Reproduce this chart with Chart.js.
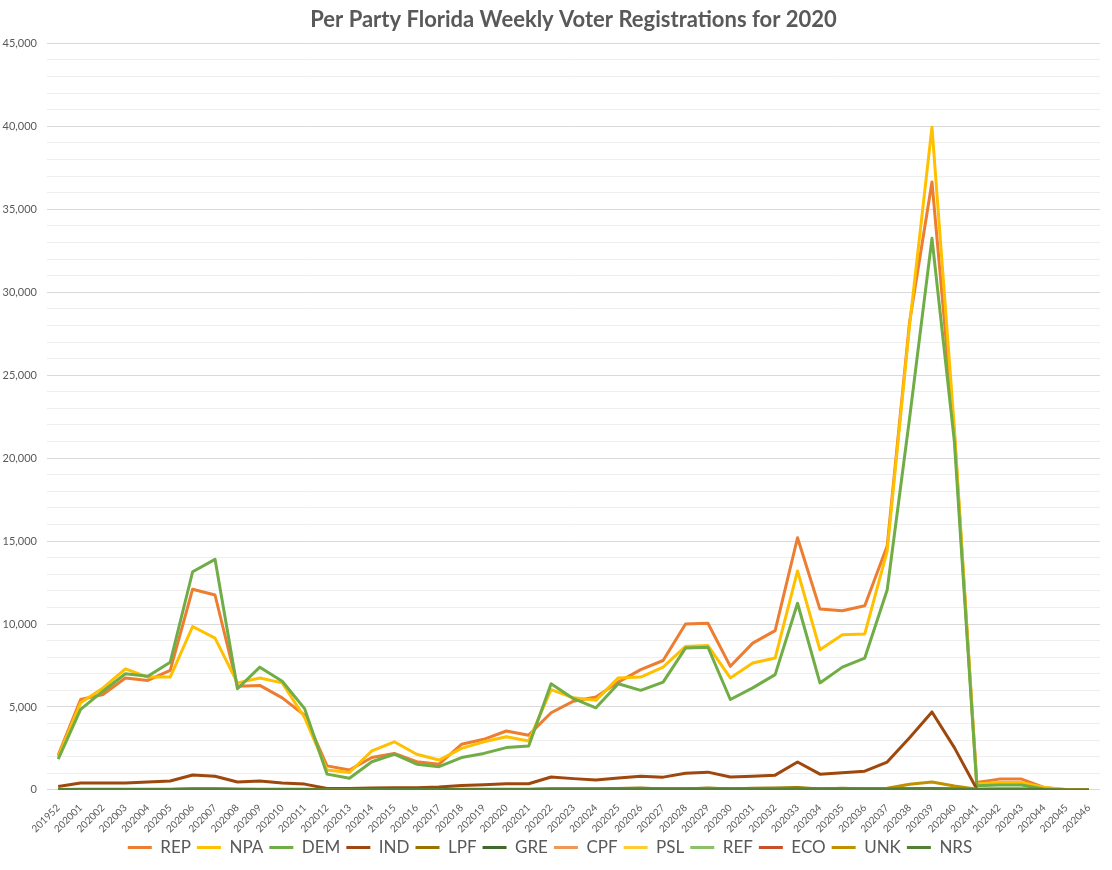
<!DOCTYPE html>
<html>
<head>
<meta charset="utf-8">
<title>Per Party Florida Weekly Voter Registrations for 2020</title>
<script src="https://cdn.jsdelivr.net/npm/chart.js@4.4.1/dist/chart.umd.min.js"></script>
<style>
  html, body { margin: 0; padding: 0; background: #fff; }
  #wrap { width: 1112px; height: 870px; }
</style>
</head>
<body>
<div id="wrap"><canvas id="registrations"></canvas></div>
<script>
// Week codes (year + week number)
const weeks = ['201952', '202001', '202002', '202003', '202004', '202005', '202006', '202007', '202008', '202009',
  '202010', '202011', '202012', '202013', '202014', '202015', '202016', '202017', '202018', '202019',
  '202020', '202021', '202022', '202023', '202024', '202025', '202026', '202027', '202028', '202029',
  '202030', '202031', '202032', '202033', '202034', '202035', '202036', '202037', '202038', '202039',
  '202040', '202041', '202042', '202043', '202044', '202045', '202046'];

// Weekly registrations per party
const rep = [2100, 5450, 5750, 6750, 6600, 7200, 12100, 11750, 6250, 6300,
  5550, 4500, 1450, 1200, 1950, 2200, 1700, 1550, 2750, 3050,
  3550, 3300, 4650, 5350, 5600, 6500, 7250, 7800, 10000, 10050,
  7450, 8850, 9600, 15200, 10900, 10800, 11100, 14700, 28200, 36650,
  21500, 450, 650, 650, 150, 10, 0];
const npa = [2000, 5250, 6150, 7300, 6800, 6800, 9850, 9150, 6450, 6750,
  6450, 4350, 1200, 1050, 2350, 2900, 2150, 1800, 2500, 2900,
  3200, 2950, 6050, 5550, 5400, 6750, 6800, 7400, 8650, 8700,
  6750, 7650, 7950, 13200, 8450, 9350, 9400, 14400, 28000, 39950,
  21800, 350, 450, 450, 150, 20, 0];
const dem = [1850, 4850, 5950, 7000, 6850, 7700, 13150, 13900, 6100, 7400,
  6550, 4900, 950, 700, 1700, 2150, 1550, 1400, 1950, 2200,
  2550, 2650, 6400, 5500, 4950, 6400, 6000, 6500, 8550, 8600,
  5450, 6150, 6950, 11250, 6450, 7400, 7950, 12050, 22400, 33250,
  21000, 250, 300, 300, 50, 0, 0];
const ind = [200, 420, 420, 420, 480, 540, 900, 820, 480, 540,
  420, 350, 80, 80, 120, 130, 130, 170, 260, 310,
  370, 370, 780, 680, 600, 720, 830, 770, 1000, 1070,
  780, 830, 890, 1680, 950, 1030, 1130, 1680, 3150, 4700,
  2550, 50, 30, 30, 10, 0, 0];
const lpf = [20, 30, 30, 30, 30, 30, 50, 50, 40, 30,
  30, 30, 10, 10, 20, 20, 20, 20, 30, 30,
  30, 30, 50, 50, 50, 80, 120, 60, 60, 110,
  60, 100, 110, 140, 60, 100, 60, 80, 60, 50,
  40, 20, 50, 50, 20, 0, 0];
const gre = [5, 10, 10, 10, 10, 10, 15, 15, 10, 10,
  10, 10, 5, 5, 5, 5, 5, 5, 10, 10,
  10, 10, 15, 15, 15, 15, 15, 15, 20, 20,
  15, 15, 15, 25, 15, 15, 15, 20, 30, 40,
  20, 5, 10, 10, 5, 0, 0];
const cpf = [10, 20, 20, 20, 20, 20, 30, 30, 20, 20,
  20, 20, 5, 5, 10, 10, 10, 10, 15, 15,
  15, 15, 25, 20, 20, 25, 25, 25, 30, 30,
  25, 25, 25, 40, 25, 25, 30, 40, 60, 80,
  40, 5, 10, 10, 5, 0, 0];
const psl = [5, 10, 10, 10, 10, 10, 15, 15, 10, 10,
  10, 10, 5, 5, 5, 5, 5, 5, 10, 10,
  10, 10, 15, 15, 15, 15, 15, 15, 20, 20,
  15, 15, 15, 25, 15, 20, 20, 25, 40, 50,
  30, 5, 10, 10, 5, 0, 0];
const ref = [5, 10, 10, 10, 10, 10, 15, 15, 10, 10,
  10, 10, 5, 5, 5, 5, 5, 5, 10, 10,
  10, 10, 15, 15, 15, 15, 15, 15, 20, 20,
  15, 15, 15, 25, 15, 20, 20, 25, 40, 50,
  30, 5, 10, 10, 5, 0, 0];
const eco = [30, 40, 40, 40, 40, 40, 50, 50, 40, 40,
  40, 40, 20, 20, 30, 30, 30, 30, 40, 40,
  40, 40, 50, 50, 50, 50, 60, 50, 60, 60,
  50, 50, 60, 70, 50, 60, 50, 60, 60, 60,
  40, 10, 20, 20, 10, 0, 0];
const unk = [20, 30, 30, 30, 30, 30, 40, 40, 30, 30,
  30, 30, 10, 10, 20, 20, 20, 20, 30, 30,
  30, 30, 40, 40, 40, 60, 70, 50, 50, 80,
  50, 70, 70, 100, 50, 70, 50, 100, 340, 480,
  240, 40, 20, 20, 10, 0, 0];
const nrs = [20, 30, 30, 30, 30, 30, 40, 40, 30, 30,
  30, 30, 10, 10, 20, 20, 20, 20, 30, 30,
  30, 30, 40, 40, 40, 50, 50, 50, 50, 60,
  50, 60, 60, 70, 60, 60, 50, 60, 70, 80,
  50, 20, 40, 40, 20, 0, 0];

const parties = ['REP', 'NPA', 'DEM', 'IND', 'LPF', 'GRE', 'CPF', 'PSL', 'REF', 'ECO', 'UNK', 'NRS'];
const series = [rep, npa, dem, ind, lpf, gre, cpf, psl, ref, eco, unk, nrs];
const colors = ['#ED7D31', '#FFC000', '#70AD47', '#9E480E', '#997300', '#43682B',
  '#F1975A', '#FFCD33', '#8CC168', '#C8502A', '#BF9000', '#548235'];

Chart.defaults.font.family = 'Lato, "Open Sans", sans-serif';
Chart.defaults.color = '#595959';

const ctx = document.getElementById('registrations').getContext('2d');
new Chart(ctx, {
  type: 'line',
  data: {
    labels: weeks,
    datasets: parties.map((name, i) => ({
      label: name,
      data: series[i],
      borderColor: colors[i],
      backgroundColor: colors[i],
      borderWidth: 3,
      pointRadius: 0,
      tension: 0,
      borderJoinStyle: 'round',
      order: parties.length - i // later series drawn on top, like Excel
    }))
  },
  options: {
    responsive: true,
    maintainAspectRatio: false,
    animation: false,
    layout: { padding: { left: 0, right: 12, top: 0, bottom: 4 } },
    plugins: {
      title: {
        display: true,
        fullSize: false, // centre over the plot area
        text: 'Per Party Florida Weekly Voter Registrations for 2020',
        font: { size: 22, weight: 'bold' },
        color: '#595959',
        padding: { top: 7, bottom: 10 }
      },
      legend: {
        position: 'bottom',
        labels: {
          usePointStyle: true,
          pointStyle: 'line',
          pointStyleWidth: 24,
          font: { size: 17 },
          padding: 6,
          sort: (a, b) => a.datasetIndex - b.datasetIndex
        }
      },
      tooltip: { enabled: false }
    },
    scales: {
      x: {
        offset: true,
        afterFit: scale => { scale.height -= 6; },
        grid: { display: false, offset: true },
        border: { display: false },
        ticks: { minRotation: 45, maxRotation: 45, autoSkip: false, font: { size: 10 }, padding: 4 }
      },
      y: {
        min: 0,
        max: 45000,
        afterFit: scale => { scale.width = 47; },
        border: { display: false },
        grid: {
          drawTicks: false,
          color: c => (c.tick.value % 5000 === 0 ? '#D9D9D9' : '#EEEEEE')
        },
        ticks: {
          stepSize: 1000,
          padding: 10,
          font: { size: 11 },
          callback: v => (v % 5000 === 0 ? v.toLocaleString('en-US') : '')
        }
      }
    }
  }
});
</script>
</body>
</html>
